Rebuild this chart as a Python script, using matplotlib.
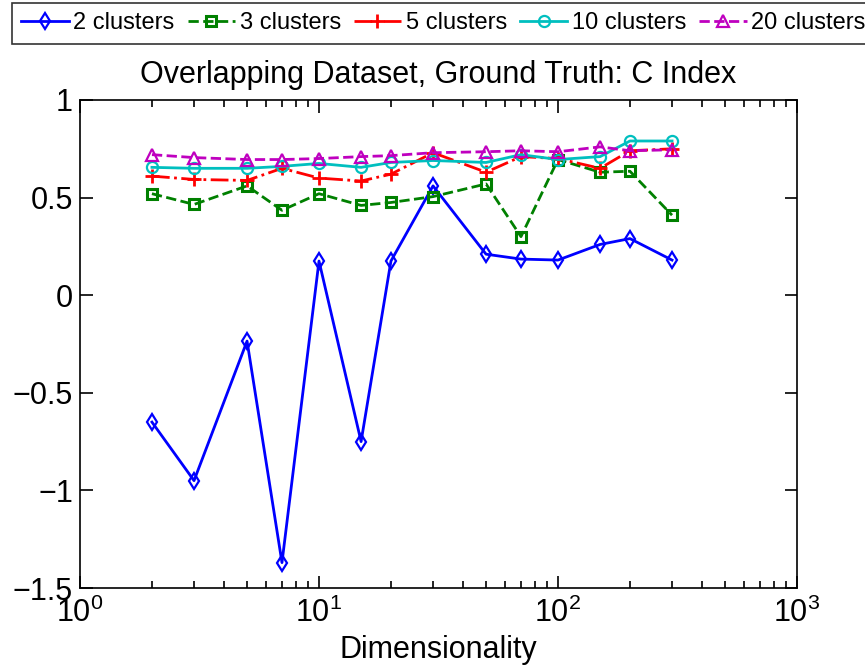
import numpy as np
import matplotlib
matplotlib.use("Agg")
import matplotlib.pyplot as plt
from matplotlib.ticker import LogLocator, NullFormatter

plt.rcParams['font.family'] = ['Liberation Sans', 'DejaVu Sans']

dims = [2, 3, 5, 7, 10, 15, 20, 30, 50, 70, 100, 150, 200, 300]

c2 = [-0.65, -0.95, -0.235, -1.37, 0.175, -0.75, 0.175, 0.56, 0.21, 0.185, 0.18, 0.26, 0.29, 0.18]
c3 = [0.52, 0.465, 0.56, 0.435, 0.52, 0.46, 0.475, 0.505, 0.57, 0.30, 0.695, 0.63, 0.635, 0.41]
c5 = [0.61, 0.593, 0.588, 0.65, 0.60, 0.585, 0.62, 0.73, 0.63, 0.71, 0.70, 0.65, 0.74, 0.75]
c10 = [0.655, 0.65, 0.65, 0.66, 0.675, 0.655, 0.68, 0.69, 0.68, 0.72, 0.695, 0.71, 0.79, 0.79]
c20 = [0.72, 0.705, 0.695, 0.695, 0.70, 0.71, 0.715, 0.73, 0.735, 0.74, 0.735, 0.76, 0.74, 0.745]

labels = ["2 clusters", "3 clusters", "5 clusters", "10 clusters", "20 clusters"]

fig = plt.figure(figsize=(8.65, 6.67), dpi=100)
ax = fig.add_axes([80 / 865, 1 - 588 / 667, 717 / 865, 488 / 667])

ax.plot(dims, c2, '-', color='blue', lw=2, marker='d', ms=8, mfc='none', mew=1.6, label=labels[0])
ax.plot(dims, c3, '--', color=(0, 0.5, 0), lw=2, marker='s', ms=7, mfc='none', mew=2.2, label=labels[1])
ax.plot(dims, c5, '-.', color='red', lw=2, marker='+', ms=10, mew=2, label=labels[2])
ax.plot(dims, c10, '-', color=(0, 0.75, 0.75), lw=2, marker='o', ms=8, mfc='none', mew=1.6, label=labels[3])
ax.plot(dims, c20, '--', color=(0.75, 0, 0.75), lw=2, marker='^', ms=9, mfc='none', mew=1.6, label=labels[4])

ax.set_xscale('log')
ax.set_xlim(1, 1000)
ax.set_ylim(-1.5, 1)
ax.set_yticks([-1.5, -1, -0.5, 0, 0.5, 1])
ax.set_yticklabels(['\u22121.5', '\u22121', '\u22120.5', '0', '0.5', '1'])
ax.xaxis.set_minor_locator(LogLocator(base=10, subs=np.arange(2, 10), numticks=20))
ax.xaxis.set_minor_formatter(NullFormatter())
ax.tick_params(which='both', direction='in', top=True, right=True, labelsize=22, width=1.2)
ax.tick_params(which='major', length=9)
ax.tick_params(which='minor', length=5)
ax.tick_params(axis='y', pad=5)
ax.tick_params(axis='x', pad=7)
for s in ax.spines.values():
    s.set_linewidth(1.2)

ax.set_title("Overlapping Dataset, Ground Truth: C Index", fontsize=22, pad=12)
ax.set_xlabel("Dimensionality", fontsize=22, labelpad=4)
ax.set_ylabel("C Index", fontsize=22, color='#1a1a6e')
ax.yaxis.set_label_coords(-0.125, 0.5)

leg = fig.legend(loc='upper left', bbox_to_anchor=(12 / 865, 1 - 3 / 667), ncol=5,
                 fontsize=17, frameon=True, fancybox=False, edgecolor='black',
                 handlelength=2.0, handletextpad=0.2, columnspacing=0.55,
                 borderpad=0.4, borderaxespad=0)
leg.get_frame().set_linewidth(1.2)

fig.savefig("out.png", dpi=100)
